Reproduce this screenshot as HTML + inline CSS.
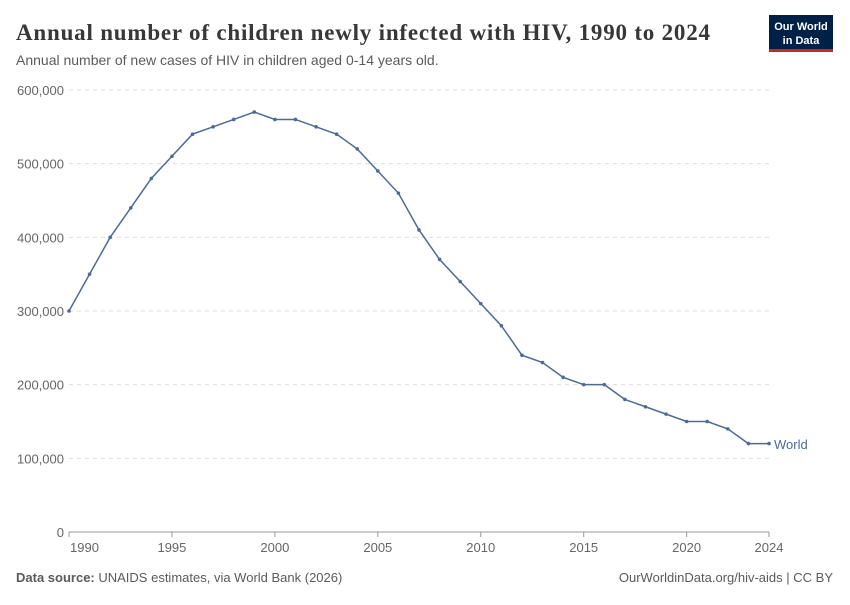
<!DOCTYPE html>
<html><head><meta charset="utf-8"><style>
body{margin:0;background:#fff;width:850px;height:600px;overflow:hidden;font-family:"Liberation Sans",sans-serif}
</style></head><body>
<svg id="s" width="850" height="600" xmlns="http://www.w3.org/2000/svg">
<text x="16" y="40" font-family="Liberation Serif,serif" font-size="23" font-weight="bold" fill="#373737" textLength="694" lengthAdjust="spacing">Annual number of children newly infected with HIV, 1990 to 2024</text>
<text x="16" y="65" font-size="14" fill="#5b5b5b">Annual number of new cases of HIV in children aged 0-14 years old.</text>
<rect x="769" y="15" width="64" height="36" fill="#002147"/>
<rect x="769" y="49" width="64" height="3" fill="#ce261e"/>
<text x="801" y="30" font-size="11" fill="#fff" text-anchor="middle" font-weight="bold">Our World</text>
<text x="801" y="44" font-size="11" fill="#fff" text-anchor="middle" font-weight="bold">in Data</text>
<g id="grid" font-size="13" fill="#666"></g>
<line x1="69" y1="532" x2="769" y2="532" stroke="#999"/>
<g id="xt" font-size="13" fill="#666"></g>
<polyline id="pl" fill="none" stroke="#4c6a9c" stroke-width="1.5"/>
<g id="dots" fill="#4c6a9c"></g>
<text x="774" y="449" font-size="13" fill="#4c6a9c">World</text>
<text x="16" y="582" font-size="13" fill="#5b5b5b"><tspan font-weight="bold">Data source:</tspan> UNAIDS estimates, via World Bank (2026)</text>
<text x="833" y="582" font-size="13" fill="#5b5b5b" text-anchor="end">OurWorldinData.org/hiv-aids | CC BY</text>
</svg>
<script>
const ns="http://www.w3.org/2000/svg";
function el(t,a,p,txt){const e=document.createElementNS(ns,t);for(const k in a)e.setAttribute(k,a[k]);if(txt!=null)e.textContent=txt;p.appendChild(e);return e;}
const Y=v=>532-v/600000*442, X=y=>69+(y-1990)*700/34;
const g=document.getElementById('grid');
for(let i=0;i<=6;i++){const y=Y(i*100000);
 if(i>0)el('line',{x1:69,x2:769,y1:y,y2:y,stroke:'#ddd','stroke-dasharray':'4,4'},g);
 el('text',{x:64,y:y+5,'text-anchor':'end'},g,(i*100000).toLocaleString('en-US'));}
const xt=document.getElementById('xt');
[1990,1995,2000,2005,2010,2015,2020,2024].forEach(yr=>{const x=X(yr);
 el('line',{x1:x,x2:x,y1:532,y2:537,stroke:'#999'},xt);
 el('text',{x:yr==1990?x+1:x,y:552,'text-anchor':yr==1990?'start':'middle'},xt,yr);});
const d=[300,350,400,440,480,510,540,550,560,570,560,560,550,540,520,490,460,410,370,340,310,280,240,230,210,200,200,180,170,160,150,150,140,120,120];
const pts=d.map((v,i)=>[X(1990+i),Y(v*1000)]);
document.getElementById('pl').setAttribute('points',pts.map(p=>p.join(',')).join(' '));
const dots=document.getElementById('dots');
pts.forEach(p=>el('circle',{cx:p[0],cy:p[1],r:1.8},dots));
</script>
</body></html>
